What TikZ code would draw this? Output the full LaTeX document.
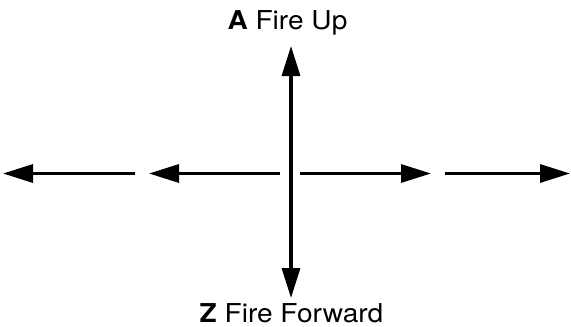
\documentclass[tikz,border=0pt]{standalone}
\usepackage{fontspec}
\newfontfamily\hv[FakeStretch=1.08]{TeX Gyre Heros}
\usetikzlibrary{arrows.meta}
\tikzset{
  arr/.style={line width=3.2pt, -{Triangle[length=30pt,width=18pt]}, shorten >=0pt},
  lbl/.style={anchor=base, inner sep=0pt, font=\hv\fontsize{26}{30}\selectfont}
}
\begin{document}
\begin{tikzpicture}[x=1pt,y=-1pt]
\useasboundingbox (0,0) rectangle (571,327);
% labels
\node[lbl] (up) at (287.5,29) {\textbf{A} Fire Up};
\node[lbl] (fwd) at (291.5,322) {\textbf{Z} Fire Forward};
% vertical axis
\coordinate (vc) at (291,173.5);
\coordinate (vtop) at (291,46);
\coordinate (vbot) at (291,298);
\draw[arr] (vc) -- (vtop);
\draw[arr] (vc) -- (vbot);
% horizontal arrows
\coordinate (l1s) at (135,173.5);
\coordinate (l1e) at (3,173.5);
\coordinate (l2s) at (280,173.5);
\coordinate (l2e) at (149,173.5);
\coordinate (r1s) at (300,173.5);
\coordinate (r1e) at (431,173.5);
\coordinate (r2s) at (445,173.5);
\coordinate (r2e) at (570,173.5);
\draw[arr] (l1s) -- (l1e);
\draw[arr] (l2s) -- (l2e);
\draw[arr] (r1s) -- (r1e);
\draw[arr] (r2s) -- (r2e);
\end{tikzpicture}
\end{document}
